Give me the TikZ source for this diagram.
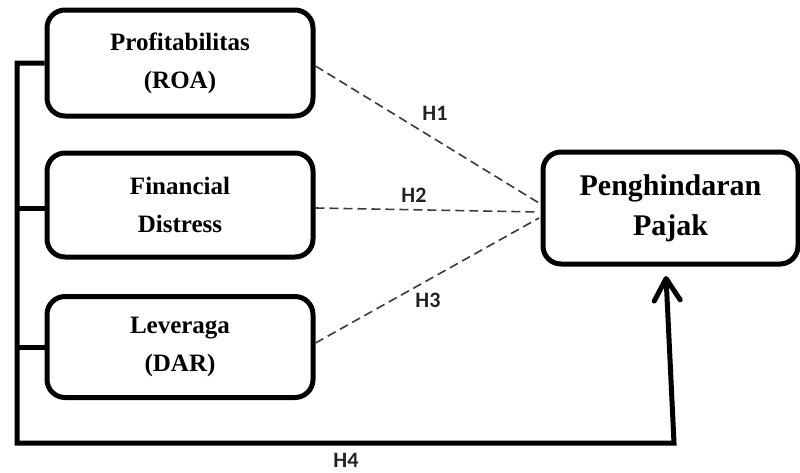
\documentclass[tikz,border=0pt]{standalone}
\usepackage{fontspec}
\setmainfont{Liberation Serif}
\newfontfamily\labfont{Carlito}
\usetikzlibrary{arrows.meta}
\definecolor{dashgray}{HTML}{3A3A3A}
\definecolor{labgray}{HTML}{222222}
\tikzset{
  varbox/.style={draw=black, line width=5pt, rounded corners=18pt, align=center,
    font=\bfseries\fontsize{25}{38}\selectfont, inner sep=0pt},
  depbox/.style={draw=black, line width=5pt, rounded corners=18pt, align=center,
    font=\bfseries\fontsize{30}{40}\selectfont, inner sep=0pt},
  hyp/.style={draw=dashgray, line width=1.6pt, dash pattern=on 9pt off 5pt},
  frame/.style={draw=black, line width=5pt},
  hlab/.style={font=\labfont\bfseries\fontsize{22}{24}\selectfont, text=labgray, inner sep=0pt}
}
\begin{document}
\begin{tikzpicture}[x=1pt,y=-1pt]
\useasboundingbox (0,0) rectangle (800,472);
% variable boxes
\node[varbox, minimum width=266pt, minimum height=106pt] (b1) at (180,63) {Profitabilitas\\(ROA)};
\node[varbox, minimum width=266pt, minimum height=104pt] (b2) at (180,205) {Financial\\Distress};
\node[varbox, minimum width=266pt, minimum height=101pt] (b3) at (180,347) {Leveraga\\(DAR)};
\node[depbox, minimum width=255pt, minimum height=112pt] (rb) at (670.5,208) {Penghindaran\\Pajak};
% dashed hypotheses
\coordinate (e1) at (539,203);
\coordinate (e2) at (539,212);
\coordinate (e3) at (539,218);
\draw[hyp] (b1.east |- 0,66) -- (e1);
\draw[hyp] (b2.east |- 0,208) -- (e2);
\draw[hyp] (b3.east |- 0,343) -- (e3);
\node[hlab] (h1) at (435,113) {H1};
\node[hlab] (h2) at (414,195) {H2};
\node[hlab] (h3) at (428,300) {H3};
% frame H4
\coordinate (tl) at (17,63);
\coordinate (bl) at (17,443);
\coordinate (br) at (674,443);
\coordinate (tip) at (666,276);
\draw[frame, -{Straight Barb[length=22pt, width=26pt, line cap=round, line join=round]}]
  (b1.west) -- (tl) -- (bl) -- (br) -- (tip);
\draw[frame] (b2.west |- 0,208) -- (tl |- 0,208);
\draw[frame] (b3.west) -- (tl |- b3.west);
\node[hlab, anchor=base, text depth=0pt] (h4) at (346,467) {H4};
\end{tikzpicture}
\end{document}
